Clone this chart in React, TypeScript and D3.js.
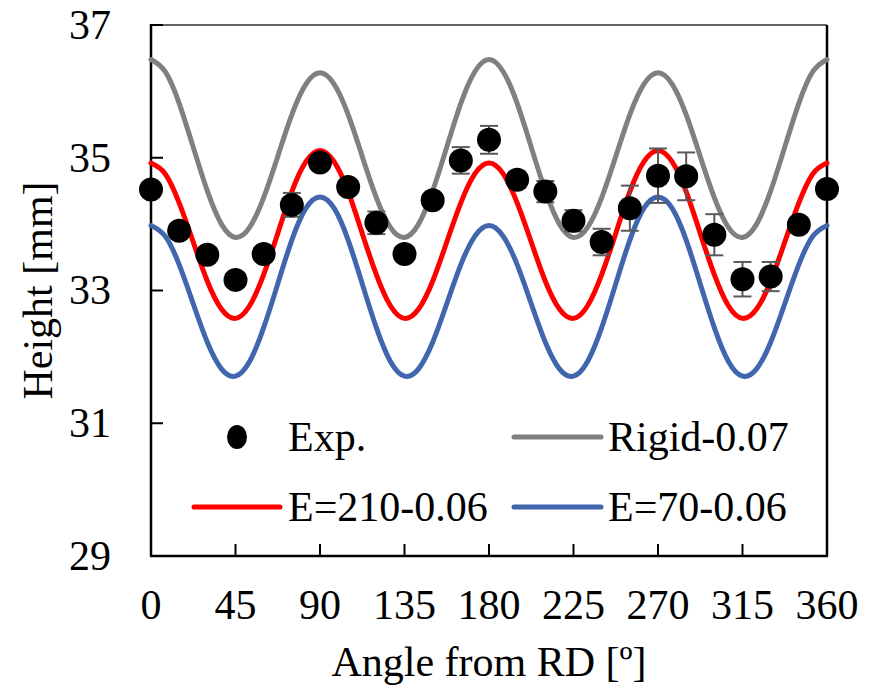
import React from "react";
import * as d3 from "d3";

// measured points (angle from RD, height in mm, +/- error)
const expAngles = [0, 15, 30, 45, 60, 75, 90, 105, 120, 135, 150, 165, 180, 195, 210, 225, 240, 255, 270, 285, 300, 315, 330, 345, 360];
const expHeight = [34.52, 33.9, 33.54, 33.16, 33.55, 34.29, 34.93, 34.56, 34.02, 33.55, 34.36, 34.96, 35.27, 34.67, 34.49, 34.05, 33.73, 34.24, 34.73, 34.72, 33.84, 33.17, 33.21, 33.99, 34.53];
const expError = [0.1, 0.1, 0.1, 0.1, 0.1, 0.18, 0.1, 0.1, 0.17, 0.1, 0.1, 0.2, 0.21, 0.12, 0.16, 0.16, 0.2, 0.34, 0.41, 0.36, 0.31, 0.26, 0.22, 0.1, 0.1];

// simulated curves, read every 7.5 degrees
const curveAngles = [0, 7.5, 15, 22.5, 30, 37.5, 45, 52.5, 60, 67.5, 75, 82.5, 90, 97.5, 105, 112.5, 120, 127.5, 135, 142.5, 150, 157.5, 165, 172.5, 180,
  187.5, 195, 202.5, 210, 217.5, 225, 232.5, 240, 247.5, 255, 262.5, 270, 277.5, 285, 292.5, 300, 307.5, 315, 322.5, 330, 337.5, 345, 352.5, 360];
const rigid = [36.48, 36.3, 35.82, 35.16, 34.5, 34.0, 33.8, 33.95, 34.4, 35.02, 35.65, 36.11, 36.28, 36.11, 35.65, 35.02, 34.4, 33.95, 33.8, 34.0, 34.5, 35.16, 35.82, 36.3, 36.48,
  36.3, 35.82, 35.16, 34.5, 34.0, 33.8, 33.95, 34.4, 35.02, 35.65, 36.11, 36.28, 36.11, 35.65, 35.02, 34.4, 33.95, 33.8, 34.0, 34.5, 35.16, 35.82, 36.3, 36.48];
const e210 = [34.92, 34.76, 34.32, 33.73, 33.14, 32.72, 32.58, 32.77, 33.24, 33.86, 34.49, 34.94, 35.11, 34.94, 34.49, 33.86, 33.24, 32.77, 32.58, 32.72, 33.14, 33.73, 34.32, 34.76, 34.92,
  34.76, 34.32, 33.73, 33.14, 32.72, 32.58, 32.77, 33.24, 33.86, 34.49, 34.94, 35.11, 34.94, 34.49, 33.86, 33.24, 32.77, 32.58, 32.72, 33.14, 33.73, 34.32, 34.76, 34.92];
const e70 = [33.98, 33.82, 33.39, 32.8, 32.22, 31.82, 31.71, 31.93, 32.44, 33.1, 33.76, 34.24, 34.41, 34.24, 33.76, 33.1, 32.44, 31.93, 31.71, 31.82, 32.22, 32.8, 33.39, 33.82, 33.98,
  33.82, 33.39, 32.8, 32.22, 31.82, 31.71, 31.93, 32.44, 33.1, 33.76, 34.24, 34.41, 34.24, 33.76, 33.1, 32.44, 31.93, 31.71, 31.82, 32.22, 32.8, 33.39, 33.82, 33.98];

const xTicks = [0, 45, 90, 135, 180, 225, 270, 315, 360];
const yTicks = [29, 31, 33, 35, 37];

const series = [
  { name: "Rigid-0.07", values: rigid, color: "#808080" },
  { name: "E=210-0.06", values: e210, color: "#FF0000" },
  { name: "E=70-0.06", values: e70, color: "#4066AE" },
];

const W = 873, H = 690;
const left = 151, right = 827, top = 25, bottom = 556;
const font = "'Liberation Serif', 'Times New Roman', serif";
const fs = 42;

export default function App() {
  const x = d3.scaleLinear().domain([0, 360]).range([left, right]);
  const y = d3.scaleLinear().domain([29, 37]).range([bottom, top]);

  const line = d3.line<number>()
    .x((_, i) => x(curveAngles[i]))
    .y((d) => y(d))
    .curve(d3.curveNatural);

  return (
    <svg width={W} height={H} style={{ position: "absolute", left: 0, top: 0, background: "#fff" }} fontFamily={font}>
      {/* frame */}
      <line x1={left} x2={right} y1={top} y2={top} stroke="#333" strokeWidth={1.5} />
      <line x1={right} x2={right} y1={top} y2={bottom} stroke="#000" strokeWidth={2.5} />
      <line x1={left} x2={left} y1={top - 1} y2={bottom} stroke="#000" strokeWidth={2.5} />
      <line x1={left - 1} x2={right + 1} y1={bottom} y2={bottom} stroke="#000" strokeWidth={2.5} />

      {yTicks.map((t) => (
        <g key={"y" + t}>
          <line x1={left} x2={left + 12} y1={y(t)} y2={y(t)} stroke="#000" strokeWidth={2} />
          <text x={left - 40} y={y(t)} dy="0.33em" textAnchor="end" fontSize={fs}>{t}</text>
        </g>
      ))}
      {xTicks.map((t) => (
        <g key={"x" + t}>
          {t > 0 && t < 360 && <line x1={x(t)} x2={x(t)} y1={bottom} y2={bottom - 12} stroke="#000" strokeWidth={2} />}
          <text x={x(t)} y={605} dy="0.33em" textAnchor="middle" fontSize={fs}>{t}</text>
        </g>
      ))}

      <text x={(left + right) / 2} y={662} dy="0.33em" textAnchor="middle" fontSize={fs}>Angle from RD [º]</text>
      <text transform={`translate(38,${(top + bottom) / 2}) rotate(-90)`} dy="0.33em" textAnchor="middle" fontSize={fs}>Height [mm]</text>

      {series.map((s) => (
        <path key={s.name} d={line(s.values) || ""} fill="none" stroke={s.color} strokeWidth={5} strokeLinecap="round" strokeLinejoin="round" />
      ))}

      {expAngles.map((a, i) => {
        const cx = x(a);
        const y1 = y(expHeight[i] + expError[i]);
        const y2 = y(expHeight[i] - expError[i]);
        return (
          <g key={"e" + a} stroke="#595959" strokeWidth={2}>
            <line x1={cx} x2={cx} y1={y1} y2={y2} />
            <line x1={cx - 9} x2={cx + 9} y1={y1} y2={y1} />
            <line x1={cx - 9} x2={cx + 9} y1={y2} y2={y2} />
          </g>
        );
      })}
      {expAngles.map((a, i) => (
        <circle key={"p" + a} cx={x(a)} cy={y(expHeight[i])} r={12} fill="#000" />
      ))}

      {/* legend */}
      <g fontSize={fs}>
        <ellipse cx={237} cy={437} rx={10} ry={12} fill="#000" />
        <text x={288} y={437} dy="0.33em">Exp.</text>
        <line x1={514} x2={601} y1={437} y2={437} stroke={series[0].color} strokeWidth={5} strokeLinecap="round" />
        <text x={608} y={437} dy="0.33em">{series[0].name}</text>
        <line x1={194} x2={280} y1={507} y2={507} stroke={series[1].color} strokeWidth={5} strokeLinecap="round" />
        <text x={288} y={507} dy="0.33em">{series[1].name}</text>
        <line x1={514} x2={601} y1={507} y2={507} stroke={series[2].color} strokeWidth={5} strokeLinecap="round" />
        <text x={608} y={507} dy="0.33em">{series[2].name}</text>
      </g>
    </svg>
  );
}
